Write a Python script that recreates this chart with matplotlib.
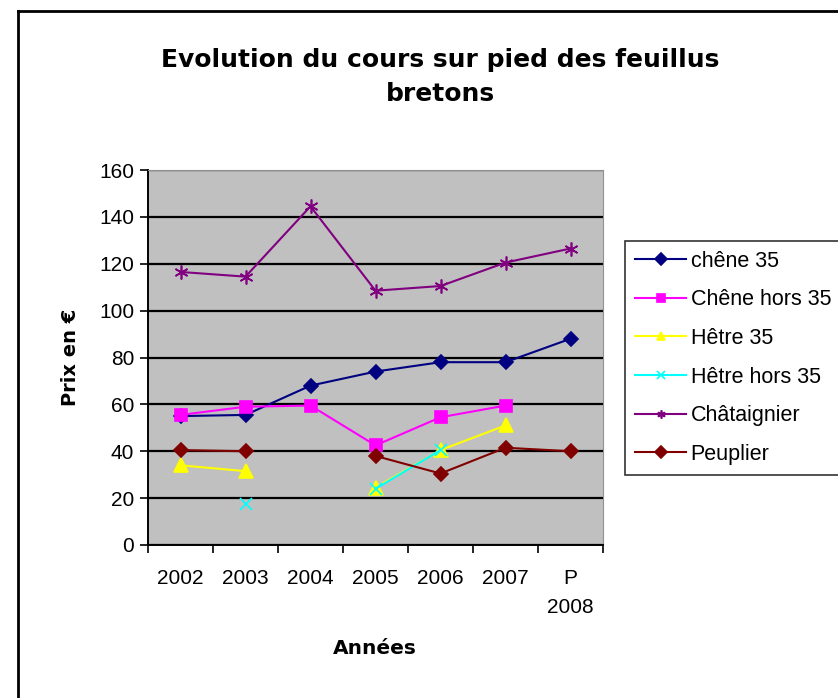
import numpy as np
import matplotlib
matplotlib.use("Agg")
import matplotlib.pyplot as plt
from matplotlib.lines import Line2D

nan = np.nan
years = ["2002", "2003", "2004", "2005", "2006", "2007", "P\n2008"]
chene35 = [55, 55.5, 68, 74, 78, 78, 88]
chene_hors35 = [55.5, 59, 59.5, 42.5, 54.5, 59.5, nan]
hetre35 = [34, 31.5, nan, 24.5, 40.5, 51, nan]
hetre_hors35 = [nan, 17.5, nan, 24, 40.5, nan, nan]
chataignier = [116.5, 114.5, 144.5, 108.5, 110.5, 120.5, 126.5]
peuplier = [40.5, 40, nan, 38, 30.5, 41.5, 40]

series = [
    ("chêne 35", chene35, "#000080", "D", 7.5),
    ("Chêne hors 35", chene_hors35, "#ff00ff", "s", 9),
    ("Hêtre 35", hetre35, "#ffff00", "^", 9.5),
    ("Hêtre hors 35", hetre_hors35, "#00ffff", "x", 8),
    ("Châtaignier", chataignier, "#800080", (6, 2, 0), 10),
    ("Peuplier", peuplier, "#800000", "D", 7.5),
]

plt.rcParams['font.family'] = ['Liberation Sans', 'DejaVu Sans']

fig = plt.figure(figsize=(8.38, 6.98), dpi=100)
ax = fig.add_axes([148/838, 1-545/698, (603-148)/838, (545-170)/698])
ax.set_facecolor("#c0c0c0")

x = np.arange(len(years))
for name, vals, col, mk, ms in series:
    ax.plot(x, vals, color=col, marker=mk, markersize=ms, linewidth=1.5,
            markeredgecolor=col, markerfacecolor=col, markeredgewidth=1.2,
            label=name, zorder=3)

ax.set_xlim(-0.5, len(years)-0.5)
ax.set_ylim(0, 160)
ax.set_yticks(np.arange(0, 161, 20))
ax.yaxis.grid(True, color="black", linewidth=1.6)
ax.set_axisbelow(True)
ax.set_xticks(x)
ax.set_xticklabels(years, fontsize=15, linespacing=1.7)
ax.set_xticks(np.arange(-0.5, len(years), 1.0), minor=True)
ax.tick_params(axis='x', which='major', length=0, pad=17)
ax.tick_params(axis='x', which='minor', length=6, width=1.2, direction='out')
ax.tick_params(axis='y', labelsize=15, length=6, width=1.2, direction='out', pad=4)
for lab in ax.get_xticklabels():
    lab.set_verticalalignment('top')

ax.spines['left'].set_color('black')
ax.spines['bottom'].set_color('black')
ax.spines['left'].set_linewidth(1.4)
ax.spines['bottom'].set_linewidth(1.4)
ax.spines['top'].set_color('#909090')
ax.spines['right'].set_color('#909090')

fig.text(440/838, 1-77/698, "Evolution du cours sur pied des feuillus\nbretons",
         ha='center', va='center', fontsize=18, fontweight='bold',
         family='DejaVu Sans', linespacing=1.55)
fig.text(375/838, 1-648/698, "Années", ha='center', va='center',
         fontsize=14.5, fontweight='bold', family='DejaVu Sans')
fig.text(70/838, 1-357/698, "Prix en €", ha='center', va='center', rotation=90,
         fontsize=14, fontweight='bold', family='DejaVu Sans')

handles, labels = ax.get_legend_handles_labels()
leg = fig.legend(handles, labels, loc='upper left',
                 bbox_to_anchor=(625/838, 1-241/698), fontsize=15.5,
                 frameon=True, fancybox=False, handlelength=2.4,
                 handletextpad=0.2, labelspacing=0.82, borderpad=0.45,
                 borderaxespad=0)
leg.get_frame().set_edgecolor('black')
leg.get_frame().set_linewidth(1.2)
for h in leg.legend_handles:
    h.set_markersize(6)

# outer border (chart area frame)
fig.add_artist(Line2D([18/838, 18/838], [0, 1-11/698], transform=fig.transFigure,
                      color='black', linewidth=2))
fig.add_artist(Line2D([18/838, 1], [1-11/698, 1-11/698], transform=fig.transFigure,
                      color='black', linewidth=2))

fig.savefig("out.png", dpi=100, facecolor='white')
